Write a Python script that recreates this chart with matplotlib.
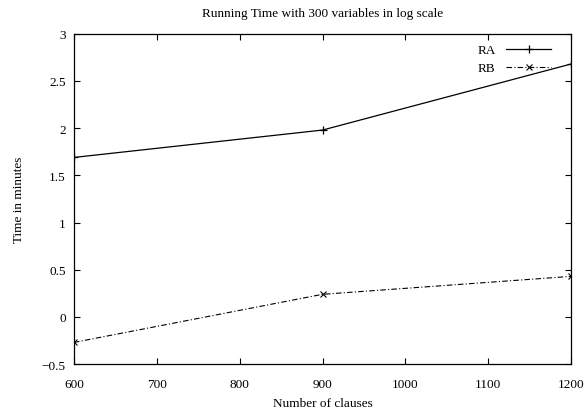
import numpy as np
import matplotlib
matplotlib.use("Agg")
from matplotlib import pyplot as plt

clauses = [600, 900, 1200]
ra_time = [1.69, 1.98, 2.68]
rb_time = [-0.27, 0.24, 0.43]
x_ticks = [600, 700, 800, 900, 1000, 1100, 1200]
y_ticks = [-0.5, 0, 0.5, 1, 1.5, 2, 2.5, 3]

plt.rcParams['font.family'] = ['Liberation Serif', 'DejaVu Serif']
plt.rcParams['font.size'] = 9.5

fig = plt.figure(figsize=(5.87, 4.14), dpi=100)
ax = fig.add_axes([0.126, 0.118, 0.847, 0.798])

ax.plot(clauses, ra_time, color='black', lw=0.9, marker='+', ms=6, mew=0.9, label='RA')
ax.plot(clauses, rb_time, color='black', lw=0.8, ls=(0, (5, 2, 1, 2)), marker='x', ms=4, mew=0.8, label='RB')

ax.set_xlim(600, 1200)
ax.set_ylim(-0.5, 3)
ax.set_xticks(x_ticks)
ax.set_yticks(y_ticks)
ax.set_yticklabels(['\u22120.5', '0', '0.5', '1', '1.5', '2', '2.5', '3'])
ax.tick_params(direction='in', length=4, width=0.8, top=True, right=True, pad=6)
ax.tick_params(axis='x', pad=10)
for s in ax.spines.values():
    s.set_linewidth(0.9)

ax.set_xlabel('Number of clauses', labelpad=5)
ax.set_ylabel('Time in minutes', labelpad=12)
ax.set_title('Running Time with 300 variables in log scale', fontsize=9.5, pad=13)

leg = ax.legend(loc='upper right', frameon=False, markerfirst=False, handlelength=3.4,
                handletextpad=0.8, labelspacing=0.45, borderaxespad=0.0,
                bbox_to_anchor=(0.97, 0.985))

fig.savefig('out.png', dpi=100)
